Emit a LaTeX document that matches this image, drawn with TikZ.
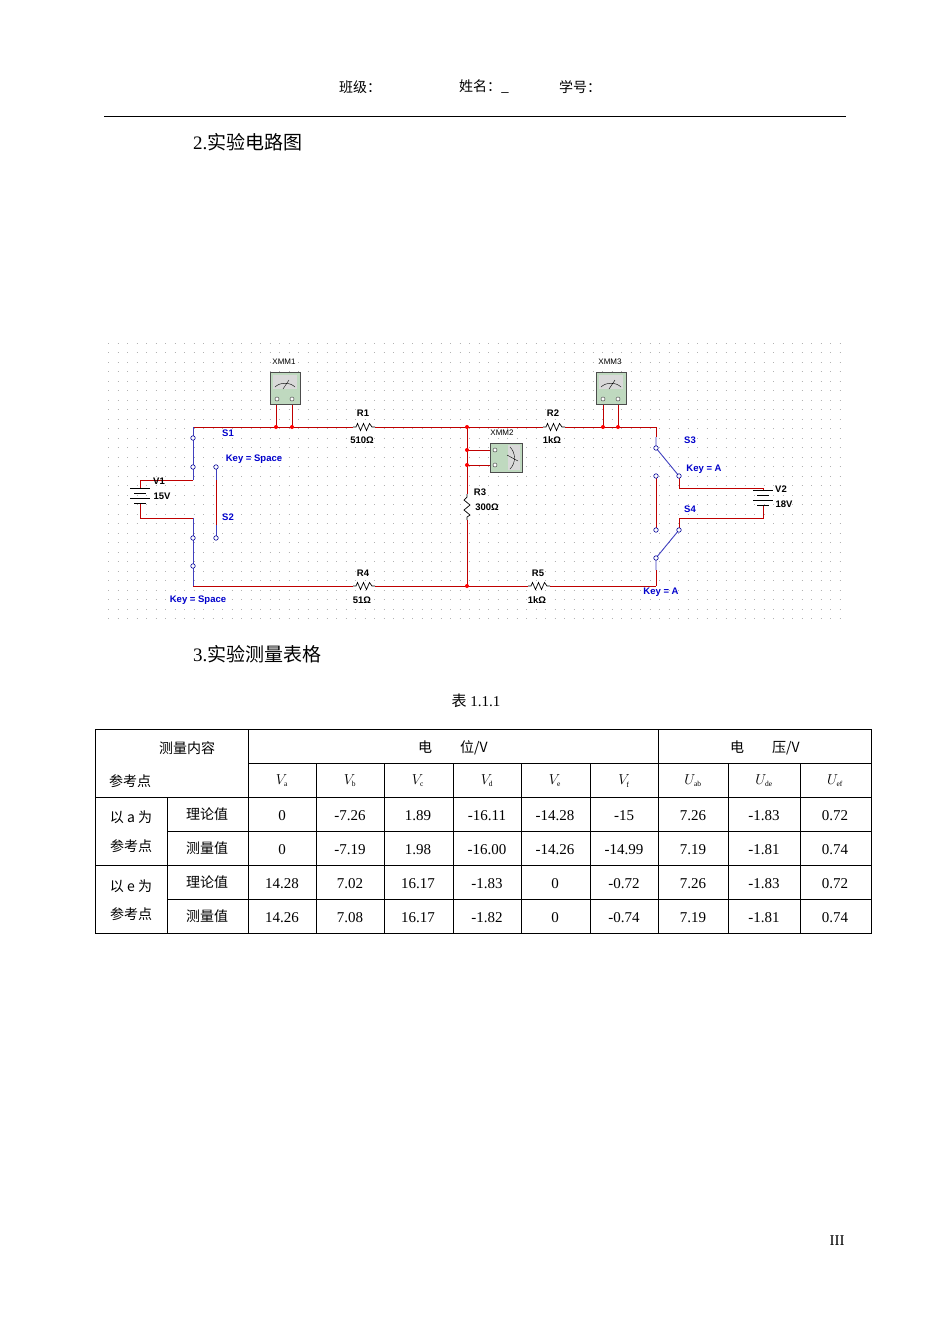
\documentclass[tikz,border=0pt]{standalone}
\usepackage{fontspec}
\setmainfont{Liberation Serif}
\newfontfamily\cjk{Noto Sans CJK SC}
\newfontfamily\lsans{Liberation Sans}
\begin{document}
\begin{tikzpicture}[x=1pt,y=-1pt,
  wire/.style={draw=red!75!black,line width=0.8pt},
  bwire/.style={draw=blue!50!gray,line width=0.9pt},
  term/.style={circle,draw=blue!60!black,fill=white,inner sep=0pt,minimum size=4.5pt,line width=0.6pt},
  mterm/.style={circle,draw=black!70,fill=white,inner sep=0pt,minimum size=4pt,line width=0.5pt},
  dot/.style={circle,fill=red,inner sep=0pt,minimum size=4pt},
  lab/.style={font=\lsans\bfseries\fontsize{9.5}{11}\selectfont,inner sep=0pt},
  blab/.style={lab,text=blue!80!black},
  xlab/.style={font=\lsans\fontsize{8}{9}\selectfont,inner sep=0pt},
  meter/.style={draw=black!70,fill=green!25!gray!40,line width=0.6pt},
  body/.style={font=\fontsize{19}{22}\selectfont,inner sep=0pt},
  tb/.style={font=\fontsize{15}{18}\selectfont,inner sep=0pt},
  ct/.style={font=\cjk\fontsize{14}{17}\selectfont,inner sep=0pt},
  pics/hres/.style={code={\draw[black,line width=0.7pt] (-11,0)--(-8,0)--(-6.5,-3.5)--(-3.5,3.5)--(-0.5,-3.5)--(2.5,3.5)--(5.5,-3.5)--(8,0)--(11,0);}},
  pics/vres/.style={code={\draw[black,line width=0.7pt] (0,-13)--(0,-10)--(-3,-7)--(3,-2)--(-3,3)--(3,8)--(0,10)--(0,13);}},
  pics/batt/.style={code={\draw[black,line width=0.8pt] (-10,0)--(10,0) (-6,5)--(6,5) (-10,10)--(10,10) (-6,15)--(6,15);}}
]
\useasboundingbox (0,0) rectangle (950,1342);
\fill[white] (0,0) rectangle (950,1342);
% header
\node[ct] (h1) at (360,87) {班级：};
\node[ct] (h2) at (484,87) {姓名：\_};
\node[ct] (h3) at (580,87) {学号：};
\draw[line width=1pt] (104,116) -- (846,116);
\node[body,anchor=west] (t2) at (193,142) {2.{\cjk 实验电路图}};
% grid
\foreach \y in {343,352.5,...,627} \draw[gray!60,line width=0.8pt,dash pattern=on 0.8pt off 8.7pt] (108,\y) -- (840,\y);
% wires
\draw[wire] (193,427) -- (656,427);
\draw[wire] (193,586) -- (656,586);
\draw[wire] (467,427) -- (467,586);
\draw[bwire] (193,427) -- (193,480);
\draw[wire] (193,480) -- (140,480) -- (140,488);
\draw[wire] (140,503) -- (140,518) -- (193,518);
\draw[bwire] (193,518) -- (193,586);
\draw[wire] (216,480) -- (216,525);
\draw[bwire] (216,467) -- (216,480) (216,525) -- (216,538);
\pic at (140,488) {batt};
\node[term] (s1a) at (193,438) {};
\node[term] (s1b) at (193,467) {};
\node[term] (s2a) at (216,467) {};
\node[term] (s2b) at (216,538) {};
\node[term] (s2c) at (193,538) {};
\node[term] (s2d) at (193,566) {};
% XMM1
\draw[wire] (276,427) -- (276,400) (292,427) -- (292,400);
\draw[meter] (270,372) rectangle (300,404);
\fill[gray!30] (273,375) rectangle (297,389);
\draw[black] (275,387) .. controls (280,382) and (290,382) .. (295,387) (283,389)--(289,380);
\node[mterm] (m1a) at (277,399) {}; \node[mterm] (m1b) at (292,399) {};
\node[dot] (j1) at (276,427) {}; \node[dot] (j2) at (292,427) {};
\node[xlab] (xmm1) at (284,362) {XMM1};
% R1
\fill[white] (353,424) rectangle (375,430);
\pic at (364,427) {hres};
\node[lab] (r1) at (363,413) {R1};
\node[lab] (r1v) at (362,440) {510Ω};
% R4
\fill[white] (353,583) rectangle (375,589);
\pic at (364,586) {hres};
\node[lab] (r4) at (363,573) {R4};
\node[lab] (r4v) at (362,600) {51Ω};
% R3
\fill[white] (464,494) rectangle (470,520);
\pic at (467,507) {vres};
\node[lab] (r3) at (480,492) {R3};
\node[lab] (r3v) at (487,507) {300Ω};
\node[dot] (j3) at (467,427) {}; \node[dot] (j4) at (467,586) {};
% XMM2
\draw[wire] (467,450) -- (493,450) (467,465) -- (493,465);
\node[dot] (j5) at (467,450) {}; \node[dot] (j6) at (467,465) {};
\draw[meter] (490,443) rectangle (522,472);
\fill[gray!30] (508,445) rectangle (520,470);
\draw[black] (510,447) .. controls (516,453) and (516,463) .. (510,469) (507,455)--(518,461);
\node[mterm] (m2a) at (495,450) {}; \node[mterm] (m2b) at (495,465) {};
\node[xlab] (xmm2) at (502,433) {XMM2};
% R2
\fill[white] (543,424) rectangle (565,430);
\pic at (554,427) {hres};
\node[lab] (r2) at (553,413) {R2};
\node[lab] (r2v) at (552,440) {1kΩ};
% R5
\fill[white] (528,583) rectangle (550,589);
\pic at (539,586) {hres};
\node[lab] (r5) at (538,573) {R5};
\node[lab] (r5v) at (537,600) {1kΩ};
% XMM3
\draw[wire] (603,427) -- (603,400) (618,427) -- (618,400);
\draw[meter] (596,372) rectangle (626,404);
\fill[gray!30] (599,375) rectangle (623,389);
\draw[black] (601,387) .. controls (606,382) and (616,382) .. (621,387) (609,389)--(615,380);
\node[mterm] (m3a) at (603,399) {}; \node[mterm] (m3b) at (618,399) {};
\node[dot] (j7) at (603,427) {}; \node[dot] (j8) at (618,427) {};
\node[xlab] (xmm3) at (610,362) {XMM3};
% right switches
\draw[wire] (656,427) -- (656,437);
\draw[bwire] (656,437) -- (656,448) -- (679,476);
\draw[wire] (679,476) -- (679,488) -- (763,488) -- (763,490);
\draw[wire] (763,505) -- (763,518) -- (679,518) -- (679,530);
\draw[bwire] (679,530) -- (656,558) -- (656,570);
\draw[wire] (656,570) -- (656,586);
\draw[wire] (656,476) -- (656,530);
\pic at (763,490) {batt};
\node[term] (s3a) at (656,448) {};
\node[term] (s3b) at (679,476) {};
\node[term] (s3c) at (656,476) {};
\node[term] (s4a) at (656,530) {};
\node[term] (s4b) at (679,530) {};
\node[term] (s4c) at (656,558) {};
% labels
\node[blab] (ls1) at (228,433) {S1};
\node[blab] (lk1) at (254,459) {Key = Space};
\node[blab] (ls2) at (228,517) {S2};
\node[blab] (lk2) at (198,600) {Key = Space};
\node[blab] (ls3) at (690,440) {S3};
\node[blab] (lk3) at (704,469) {Key = A};
\node[blab] (ls4) at (690,509) {S4};
\node[blab] (lk4) at (661,592) {Key = A};
\node[lab] (v1) at (159,481) {V1};
\node[lab] (v1v) at (162,496) {15V};
\node[lab] (v2) at (781,489) {V2};
\node[lab] (v2v) at (784,504) {18V};
% section 3
\node[body,anchor=west] (t3) at (193,654) {3.{\cjk 实验测量表格}};
\node[tb] (cap) at (476,701) {{\cjk 表} 1.1.1};
% table
\draw[line width=0.6pt] (95,729) rectangle (871,933);
\draw[line width=0.6pt] (95,797) -- (871,797) (95,865) -- (871,865)
  (167,831) -- (871,831) (167,899) -- (871,899)
  (248,763) -- (871,763) (248,729) -- (248,933) (658,729) -- (658,933)
  (167,797) -- (167,933);
\foreach \x in {316,384,453,521,590,728,800} \draw[line width=0.6pt] (\x,763) -- (\x,933);
\node[ct] (c1) at (187,748) {测量内容};
\node[ct] (c2) at (130,781) {参考点};
\node[ct] (c3) at (453,748) {电\hspace{2em}位/V};
\node[ct] (c4) at (765,748) {电\hspace{2em}压/V};
\foreach \x/\t in {282/a,350/b,418/c,487/d,555/e,624/f} \node[tb] at (\x,781) {$V_{\mathrm{\scriptscriptstyle\t}}$};
\foreach \x/\t in {693/ab,764/de,835/ef} \node[tb] at (\x,781) {$U_{\mathrm{\scriptscriptstyle\t}}$};
\node[ct] (a1) at (131,817) {以 a 为};
\node[ct] (a2) at (131,846) {参考点};
\node[ct] (e1) at (131,886) {以 e 为};
\node[ct] (e2) at (131,914) {参考点};
\foreach \y in {814,882} \node[ct] at (207,\y) {理论值};
\foreach \y in {848,916} \node[ct] at (207,\y) {测量值};
\foreach \y/\a/\b/\c/\d/\e/\f/\g/\h/\i in {
  816/0/-7.26/1.89/-16.11/-14.28/-15/7.26/-1.83/0.72,
  850/0/-7.19/1.98/-16.00/-14.26/-14.99/7.19/-1.81/0.74,
  884/14.28/7.02/16.17/-1.83/0/-0.72/7.26/-1.83/0.72,
  918/14.26/7.08/16.17/-1.82/0/-0.74/7.19/-1.81/0.74}{
  \node[tb] at (282,\y) {\a}; \node[tb] at (350,\y) {\b}; \node[tb] at (418,\y) {\c};
  \node[tb] at (487,\y) {\d}; \node[tb] at (555,\y) {\e}; \node[tb] at (624,\y) {\f};
  \node[tb] at (693,\y) {\g}; \node[tb] at (764,\y) {\h}; \node[tb] at (835,\y) {\i};
}
\node[tb] (pg) at (837,1241) {III};
\end{tikzpicture}
\end{document}
